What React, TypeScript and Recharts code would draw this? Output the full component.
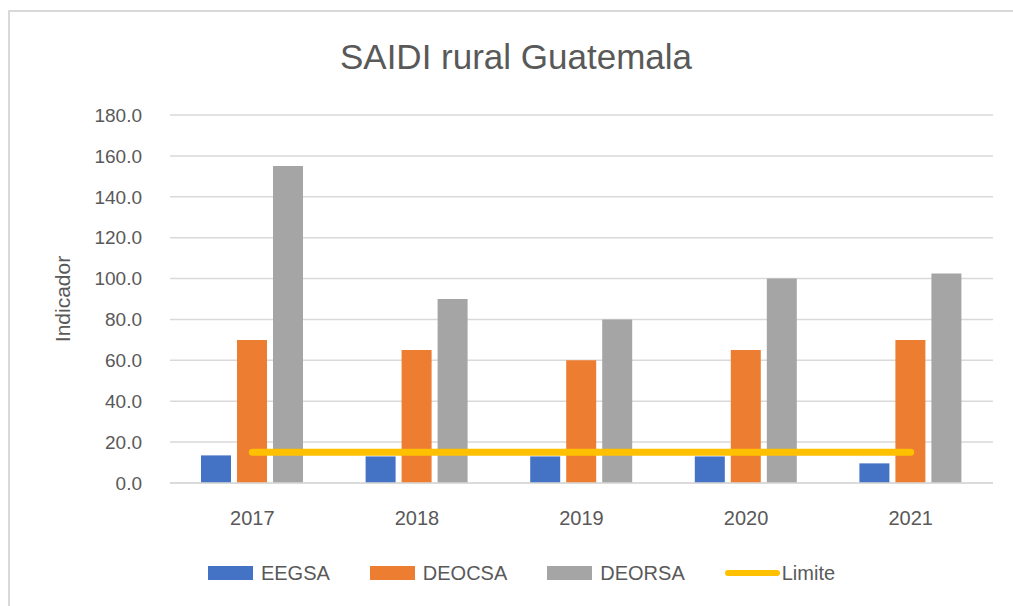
import React from "react";
import {
  ComposedChart,
  Bar,
  Line,
  XAxis,
  YAxis,
  CartesianGrid,
  Legend,
  Label,
} from "recharts";

const years = ["2017", "2018", "2019", "2020", "2021"];
const eegsa = [13.5, 13, 13, 13, 9.6];
const deocsa = [70, 65, 60, 65, 70];
const deorsa = [155, 90, 80, 100, 102.5];
const limite = [15, 15, 15, 15, 15];
const yTicks = [0, 20, 40, 60, 80, 100, 120, 140, 160, 180];

const data = years.map((year, i) => ({
  year,
  EEGSA: eegsa[i],
  DEOCSA: deocsa[i],
  DEORSA: deorsa[i],
  Limite: limite[i],
}));

const font = "'Liberation Sans', Arial, sans-serif";
const textColor = "#595959";

const legendItems = [
  { name: "EEGSA", color: "#4472C4", type: "rect" },
  { name: "DEOCSA", color: "#ED7D31", type: "rect" },
  { name: "DEORSA", color: "#A5A5A5", type: "rect" },
  { name: "Limite", color: "#FFC000", type: "line" },
];

function ChartLegend() {
  return (
    <div
      style={{
        display: "flex",
        justifyContent: "center",
        alignItems: "center",
        gap: 40,
        fontFamily: font,
        fontSize: 20,
        color: textColor,
        height: 30,
        paddingLeft: 50,
      }}
    >
      {legendItems.map((item) => (
        <div key={item.name} style={{ display: "flex", alignItems: "center" }}>
          {item.type === "rect" ? (
            <span
              style={{
                display: "inline-block",
                width: 45,
                height: 14,
                background: item.color,
                marginRight: 8,
              }}
            />
          ) : (
            <span
              style={{
                display: "inline-block",
                width: 55,
                height: 6,
                borderRadius: 3,
                background: item.color,
                marginRight: 2,
              }}
            />
          )}
          <span>{item.name}</span>
        </div>
      ))}
    </div>
  );
}

export default function App() {
  return (
    <div
      style={{
        position: "fixed",
        left: 0,
        top: 0,
        width: 1013,
        height: 606,
        background: "#fff",
        overflow: "hidden",
      }}
    >
      <div
        style={{
          position: "absolute",
          left: 8,
          top: 10,
          width: 1100,
          height: 700,
          borderLeft: "2px solid #D9D9D9",
          borderTop: "2px solid #D9D9D9",
        }}
      />
      <div
        style={{
          position: "absolute",
          top: 37,
          left: 0,
          width: 1032,
          textAlign: "center",
          fontFamily: font,
          fontSize: 35,
          color: textColor,
        }}
      >
        SAIDI rural Guatemala
      </div>
      <div style={{ position: "absolute", left: 0, top: 0 }}>
        <ComposedChart
          width={1013}
          height={606}
          data={data}
          margin={{ top: 115, right: 20, left: 0, bottom: 18 }}
          barSize={30}
          barGap={6}
        >
          <CartesianGrid vertical={false} stroke="#D9D9D9" strokeWidth={1.5} />
          <XAxis
            dataKey="year"
            axisLine={{ stroke: "#D9D9D9", strokeWidth: 1.5 }}
            tickLine={false}
            tick={{ fill: textColor, fontSize: 20, fontFamily: font }}
            tickMargin={22}
            height={75}
          />
          <YAxis
            domain={[0, 180]}
            ticks={yTicks}
            tickFormatter={(v: number) => v.toFixed(1)}
            axisLine={false}
            tickLine={false}
            tick={{ fill: textColor, fontSize: 19, fontFamily: font }}
            tickMargin={22}
            width={170}
            interval={0}
          >
            <Label
              value="Indicador"
              angle={-90}
              position="insideLeft"
              offset={63}
              style={{
                textAnchor: "middle",
                fill: textColor,
                fontSize: 21,
                fontFamily: font,
              }}
            />
          </YAxis>
          <Legend verticalAlign="bottom" content={() => <ChartLegend />} />
          <Bar dataKey="EEGSA" fill="#4472C4" isAnimationActive={false} />
          <Bar dataKey="DEOCSA" fill="#ED7D31" isAnimationActive={false} />
          <Bar dataKey="DEORSA" fill="#A5A5A5" isAnimationActive={false} />
          <Line
            dataKey="Limite"
            stroke="#FFC000"
            strokeWidth={7}
            strokeLinecap="round"
            dot={false}
            activeDot={false}
            isAnimationActive={false}
          />
        </ComposedChart>
      </div>
    </div>
  );
}
